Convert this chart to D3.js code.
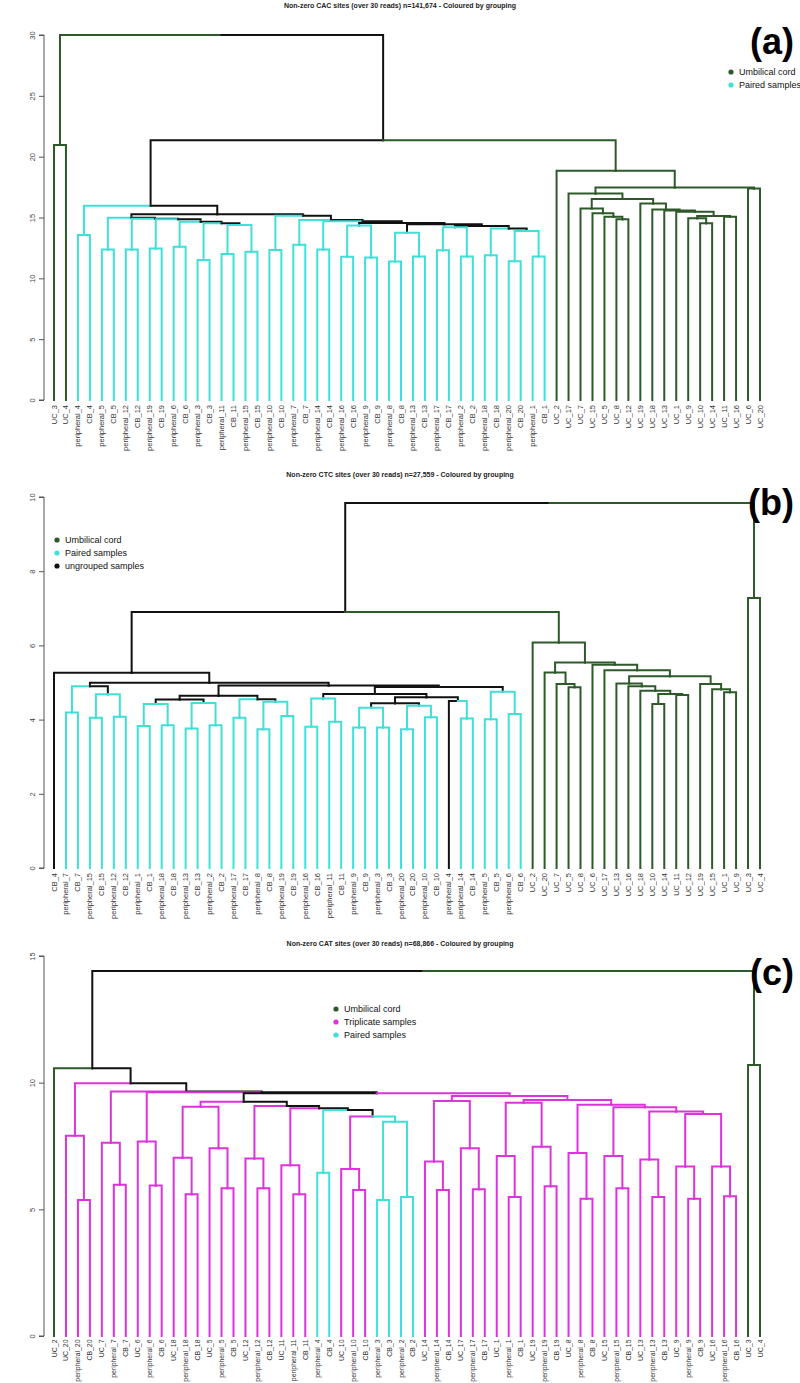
<!DOCTYPE html>
<html><head><meta charset="utf-8">
<script src="https://cdn.jsdelivr.net/npm/d3@7"></script>
<style>body{margin:0;background:#fff} text{font-family:Arial,"Liberation Sans",sans-serif}</style>
</head><body><svg id="c" width="800" height="1383"></svg>
<script>
// ---------- DATA ----------
const titleA = "Non-zero CAC sites (over 30 reads) n=141,674 - Coloured by grouping";
const titleB = "Non-zero CTC sites (over 30 reads) n=27,559 - Coloured by grouping";
const titleC = "Non-zero CAT sites (over 30 reads) n=68,866 - Coloured by grouping";
const ticksA = [0,5,10,15,20,25,30];
const ticksB = [0,2,4,6,8,10];
const ticksC = [0,5,10,15];

// panel (a): pair merge heights (peripheral_n + CB_n)
const pairNumA = [4,5,12,19,6,3,11,15,10,7,14,16,9,8,13,17,2,18,20,1];
const pairHA   = [13.56,12.38,12.38,12.45,12.6,11.5,12.0,12.19,12.33,12.76,12.38,11.78,11.72,11.39,11.8,12.3,11.8,11.9,11.4,11.8];
const cyanA = ["p4", [
  ["p5", ["p12", ["p19", ["p6", ["p3", ["p11","p15",14.38], 14.52], 14.65], 14.85], 14.9], 14.98],
  ["p10", ["p7", ["p14", [["p16","p9",14.35], [["p8","p13",13.75], [["p17","p2",14.2], ["p18", ["p20","p1",13.9], 14.1], 14.3], 14.45], 14.55], 14.7], 14.79], 15.15],
  15.26], 15.97];
const ucA = ["UC_2", [["UC_17", [
  ["UC_7", ["UC_15", ["UC_5", ["UC_8","UC_12",14.85], 15.06], 15.34], 15.75],
  ["UC_19", ["UC_18", ["UC_13", ["UC_1", [["UC_9", ["UC_10","UC_14",14.52], 14.93], ["UC_11","UC_16",15.06], 15.12], 15.47], 15.58], 15.65], 16.16],
  16.52], 16.98], ["UC_6","UC_20",17.39], 17.47], 18.84];
const treeA = [["UC_3","UC_4",20.95], [cyanA, ucA, 21.35], 30.0];

// panel (b)
const pairNumB = [7,15,12,1,18,13,2,17,8,19,16,11,9,3,20,10,14,5,6];
const pairHB   = [4.19,4.05,4.08,3.83,3.85,3.76,3.85,4.05,3.74,4.1,3.81,3.94,3.79,3.79,3.74,4.06,4.03,4.01,4.15];
const ungroupedB = ["CB_4","peripheral_4"];
const otherB = ["CB_4", [["p7", ["p15","p12",4.68], 4.9], [
  [[["p1","p18",4.42],["p13","p2",4.45],4.54], ["p17",["p8","p19",4.48],4.55], 4.64],
  [[["p16","p11",4.57], [[["p9","p3",4.32],["p20","p10",4.37],4.44], ["peripheral_4","p14",4.5], 4.6], 4.69], ["p5","p6",4.75], 4.88],
  4.92], 4.99], 5.26];
const ucB = ["UC_2", [["UC_20", ["UC_7", ["UC_5","UC_8",4.87], 4.96], 5.27],
  ["UC_6", ["UC_17", [["UC_13", ["UC_16", ["UC_18", [["UC_10","UC_14",4.42],["UC_11","UC_12",4.66],4.69], 4.78], 4.9], 4.97],
    ["UC_19", ["UC_15", ["UC_1","UC_9",4.74], 4.82], 4.96], 5.17], 5.33], 5.48], 5.54], 6.08];
const treeB = [[otherB, ucB, 6.9], ["UC_3","UC_4",7.28], 9.84];

// panel (c): triplets (UC_n + peripheral_n + CB_n) and pairs
const tripNumC   = [20,7,6,18,5,12,11,10,14,17,1,19,8,15,13,9,16];
const tripPairHC = [5.37,5.97,5.94,5.6,5.83,5.83,5.6,5.76,5.76,5.79,5.49,5.91,5.42,5.83,5.49,5.42,5.52];
const tripHC     = [7.9,7.63,7.68,7.04,7.41,7.01,6.74,6.59,6.89,7.41,7.11,7.47,7.22,7.11,6.97,6.69,6.69];
const pairNumC = [4,3,2];
const pairHC   = [6.44,5.37,5.49];
const midC = [[["t18","t5",9.05], ["t12", ["t11", ["p4", ["t10", ["p3","p2",8.46], 8.66], 8.92], 8.99], 9.08], 9.25],
  [["t14","t17",9.28], [["t1","t19",9.21], ["t8", ["t15", ["t13", ["t9","t16",8.76], 8.86], 9.03], 9.13], 9.32], 9.47], 9.58];
const treeC = [["UC_2", ["t20", ["t7", ["t6", midC, 9.62], 9.65], 9.98], 10.57], ["UC_3","UC_4",10.7], 14.41];

const legendA = ["Umbilical cord","Paired samples"];
const legendB = ["Umbilical cord","Paired samples","ungrouped samples"];
const legendC = ["Umbilical cord","Triplicate samples","Paired samples"];

// ---------- STYLE ----------
const GREEN="#2e5a2a", CYAN="#3fe0d8", MAGENTA="#dd33dd", BLACK="#111111";
const colorOf = k => k==="UC"?GREEN : k==="T"?MAGENTA : k==="X"?BLACK : (k && k[0]==="P")?CYAN : BLACK;
const legendColors = {"Umbilical cord":GREEN,"Paired samples":CYAN,"ungrouped samples":BLACK,"Triplicate samples":MAGENTA};

const svg = d3.select("#c");
const num = s => +s.split("_")[1];

function expand(node, pairNum, pairH, tripNum, tripPH, tripH){
  if (typeof node === "string"){
    if (node[0]==="p" && !node.startsWith("peripheral")){
      const n=+node.slice(1); const h=pairH[pairNum.indexOf(n)];
      return ["peripheral_"+n,"CB_"+n,h];
    }
    if (node[0]==="t"){
      const n=+node.slice(1); const i=tripNum.indexOf(n);
      return ["UC_"+n, ["peripheral_"+n,"CB_"+n,tripPH[i]], tripH[i]];
    }
    return node;
  }
  return [expand(node[0],pairNum,pairH,tripNum,tripPH,tripH), expand(node[1],pairNum,pairH,tripNum,tripPH,tripH), node[2]];
}

function build(node, keyFn, leaves){
  if (typeof node === "string"){
    const o={name:node, x:leaves.length, h:0, key:keyFn(node)}; leaves.push(o); return o;
  }
  const a=build(node[0],keyFn,leaves), b=build(node[1],keyFn,leaves);
  return {children:[a,b], x:(a.x+b.x)/2, h:node[2], key:(a.key===b.key)?a.key:null};
}

function draw(cfg){
  const leaves=[];
  const root = build(cfg.tree, cfg.keyFn, leaves);
  const x = d3.scaleLinear().domain([0,leaves.length-1]).range([54,760]);
  const y = d3.scaleLinear().domain(cfg.domain).range([cfg.y0, cfg.yTop]);
  const g = svg.append("g");
  g.append("text").attr("x",400).attr("y",cfg.titleY).attr("text-anchor","middle")
    .attr("font-size",7).attr("font-weight","bold").attr("fill","#222").text(cfg.title);
  const ax = g.append("g").attr("transform","translate(44,0)");
  ax.call(d3.axisLeft(y).tickValues(cfg.ticks).tickSize(5).tickFormat(d3.format("d")));
  ax.select(".domain").attr("stroke","#555").attr("d",`M-5,${y(cfg.ticks[0])}H0V${y(cfg.ticks[cfg.ticks.length-1])}H-5`);
  ax.selectAll(".tick line").attr("stroke","#555");
  ax.selectAll(".tick text").attr("font-size",7.5).attr("fill","#444").attr("font-family","Arial")
    .attr("x",0).attr("y",0).attr("dy",0).attr("dx",0).attr("text-anchor","middle")
    .attr("transform","translate(-9,0) rotate(-90)");
  const edges=[];
  (function walk(n){ if(!n.children) return; n.children.forEach(c=>{edges.push({p:n,c}); walk(c);}); })(root);
  g.append("g").selectAll("path").data(edges).join("path")
    .attr("d",e=>`M${x(e.p.x)},${y(e.p.h)}H${x(e.c.x)}V${y(e.c.h)}`)
    .attr("fill","none").attr("stroke",e=>colorOf(e.c.key)).attr("stroke-width",2).attr("stroke-linecap","square");
  g.append("g").selectAll("text").data(leaves).join("text")
    .attr("transform",d=>`translate(${x(d.x)+2.5},${cfg.y0+cfg.labOff}) rotate(-90)`)
    .attr("text-anchor","end").attr("font-size",cfg.labSize).attr("fill","#333").text(d=>d.name);
  const lg = g.append("g");
  cfg.legend.forEach((t,i)=>{
    lg.append("circle").attr("cx",cfg.legX).attr("cy",cfg.legY+i*13).attr("r",2.6).attr("fill",legendColors[t]);
    lg.append("text").attr("x",cfg.legX+8).attr("y",cfg.legY+i*13+3.2).attr("font-size",9).attr("fill","#111").text(t);
  });
  g.append("text").attr("x",794).attr("y",cfg.letterY).attr("text-anchor","end")
    .attr("font-size",36).attr("font-weight","bold").attr("fill","#000").text(cfg.letter);
}

const keyAB = ung => n => n.startsWith("UC") ? "UC" : (ung.includes(n) ? "X" : "P"+num(n));
const keyC = n => {
  const k=num(n);
  if (n.startsWith("UC") && !tripNumC.includes(k)) return "UC";
  if (!n.startsWith("UC") && pairNumC.includes(k)) return "P";
  return "T";
};

draw({tree:expand(treeA,pairNumA,pairHA,[],[],[]), keyFn:keyAB([]), domain:[0,30], y0:400, yTop:35, ticks:ticksA,
  title:titleA, titleY:8, letter:"(a)", letterY:54, legend:legendA, legX:731, legY:72, labOff:5, labSize:7.5});
draw({tree:expand(treeB,pairNumB,pairHB,[],[],[]), keyFn:keyAB(ungroupedB), domain:[0,10], y0:868, yTop:497, ticks:ticksB,
  title:titleB, titleY:477, letter:"(b)", letterY:515, legend:legendB, legX:57, legY:540, labOff:5, labSize:7.5});
draw({tree:expand(treeC,pairNumC,pairHC,tripNumC,tripPairHC,tripHC), keyFn:keyC, domain:[0,15], y0:1336, yTop:956, ticks:ticksC,
  title:titleC, titleY:946, letter:"(c)", letterY:985, legend:legendC, legX:336, legY:1009, labOff:3.5, labSize:6.9});
</script></body></html>
